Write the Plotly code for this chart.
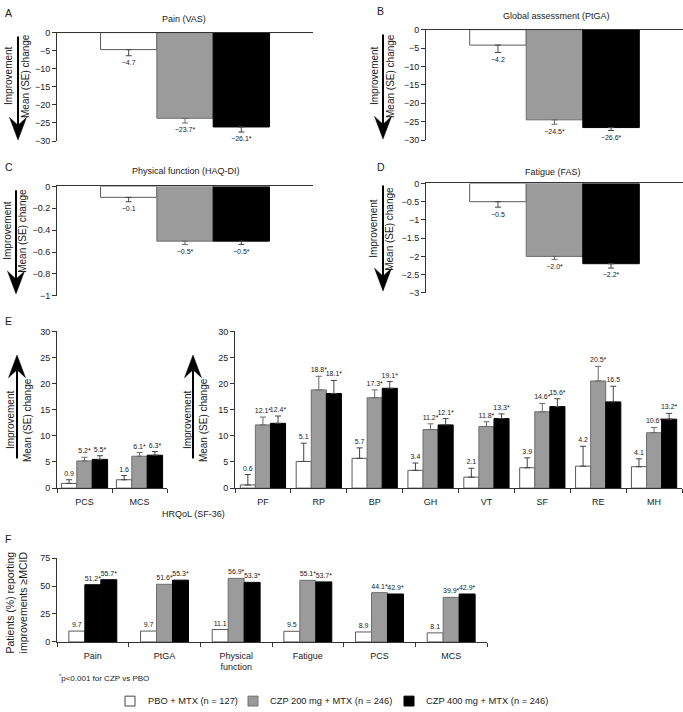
import plotly.graph_objects as go

W, H = 683, 712

# ---------------- data ----------------
group_names = ["PBO + MTX (n = 127)", "CZP 200 mg + MTX (n = 246)", "CZP 400 mg + MTX (n = 246)"]

# A  Pain (VAS)
pain_mean = [-4.7, -23.7, -26.1]
pain_se = [1.7, 1.3, 1.4]
pain_star = [False, True, True]
# B  Global assessment (PtGA)
ptga_mean = [-4.2, -24.5, -26.6]
ptga_se = [2.0, 1.2, 0.8]
ptga_star = [False, True, True]
# C  Physical function (HAQ-DI)
haq_mean = [-0.1, -0.5, -0.5]
haq_se = [0.04, 0.03, 0.03]
haq_star = [False, True, True]
# D  Fatigue (FAS)
fas_mean = [-0.5, -2.0, -2.2]
fas_se = [0.15, 0.08, 0.12]
fas_star = [False, True, True]

# E  HRQoL (SF-36) summary scores
summary_cats = ["PCS", "MCS"]
summary_pbo = [0.9, 1.6]
summary_pbo_se = [0.7, 0.8]
summary_200 = [5.2, 6.1]
summary_200_se = [0.7, 0.7]
summary_400 = [5.5, 6.3]
summary_400_se = [0.7, 0.7]
summary_star_pbo = [False, False]
summary_star_200 = [True, True]
summary_star_400 = [True, True]

# E  HRQoL (SF-36) domains
domain_cats = ["PF", "RP", "BP", "GH", "VT", "SF", "RE", "MH"]
domain_pbo = [0.6, 5.1, 5.7, 3.4, 2.1, 3.9, 4.2, 4.1]
domain_pbo_se = [2.0, 3.5, 2.0, 1.4, 1.7, 1.9, 3.8, 1.5]
domain_200 = [12.1, 18.8, 17.3, 11.2, 11.8, 14.6, 20.5, 10.6]
domain_200_se = [1.5, 2.6, 1.5, 1.1, 0.9, 1.6, 2.8, 1.0]
domain_400 = [12.4, 18.1, 19.1, 12.1, 13.3, 15.6, 16.5, 13.2]
domain_400_se = [1.4, 2.5, 1.3, 1.2, 0.9, 1.5, 3.0, 1.1]
domain_star_pbo = [False] * 8
domain_star_200 = [True, True, True, True, True, True, True, True]
domain_star_400 = [True, True, True, True, True, True, False, True]

# F  Patients reporting improvements >= MCID
mcid_cats = ["Pain", "PtGA", "Physical<br>function", "Fatigue", "PCS", "MCS"]
mcid_pbo = [9.7, 9.7, 11.1, 9.5, 8.9, 8.1]
mcid_200 = [51.2, 51.6, 56.9, 55.1, 44.1, 39.9]
mcid_400 = [55.7, 55.3, 53.3, 53.7, 42.9, 42.9]
mcid_star_pbo = [False] * 6
mcid_star_200 = [True] * 6
mcid_star_400 = [True] * 6

# ---------------- style ----------------
FONT = "Liberation Sans, Arial, Helvetica, sans-serif"
TXT = "#1a1a1a"
AX = "#333333"
FILLS = ["#ffffff", "#9b9b9b", "#000000"]
LINES = ["#5a5a5a", "#6e6e6e", "#000000"]
ERRC = ["#444444", "#6a6a6a", "#444444"]


def fx(px):
    return px / W


def fy(py):
    return 1 - py / H


def fmt(v, star):
    return f"{v:.1f}".replace("-", "\u2212") + ("*" if star else "")


fig = go.Figure()
layout = dict(
    width=W, height=H, margin=dict(l=0, r=0, t=0, b=0),
    paper_bgcolor="white", plot_bgcolor="white",
    barmode="overlay", showlegend=False,
    font=dict(family=FONT, color=TXT, size=9),
)
annotations = []
shapes = []


def add_bars(idx, n, means, ses, stars, w, up, fill_override=None):
    xid = "x" if idx == 1 else f"x{idx}"
    yid = "y" if idx == 1 else f"y{idx}"
    for k in range(3):
        xs = [i + (k - 1) * w for i in range(n)]
        fills = FILLS[k] if fill_override is None or fill_override[k] is None else fill_override[k][0]
        lines = LINES[k] if fill_override is None or fill_override[k] is None else fill_override[k][1]
        err = None
        if ses is not None:
            zeros = [0] * n
            err = dict(type="data", symmetric=False,
                       array=ses[k] if up else zeros,
                       arrayminus=zeros if up else ses[k],
                       color=ERRC[k], thickness=1, width=3)
        fig.add_trace(go.Bar(
            x=xs, y=means[k], width=w,
            marker=dict(color=fills, line=dict(color=lines, width=1)),
            error_y=err, xaxis=xid, yaxis=yid, showlegend=False, hoverinfo="skip",
        ))
        if ses is not None:
            ytxt = [m + s if up else m - s for m, s in zip(means[k], ses[k])]
        else:
            ytxt = list(means[k])
        fig.add_trace(go.Scatter(
            x=xs, y=ytxt, mode="markers+text",
            marker=dict(size=2 if up else 5, color="rgba(0,0,0,0)"),
            text=[fmt(m, st) for m, st in zip(means[k], stars[k])],
            textposition="top center" if up else "bottom center",
            textfont=dict(size=7, color=TXT, family=FONT),
            cliponaxis=False, showlegend=False, hoverinfo="skip",
            xaxis=xid, yaxis=yid,
        ))


def set_axes(idx, xd, yd, n, yrange, dtick, cats=None, top=False):
    xkey = "xaxis" if idx == 1 else f"xaxis{idx}"
    ykey = "yaxis" if idx == 1 else f"yaxis{idx}"
    xid = "x" if idx == 1 else f"x{idx}"
    yid = "y" if idx == 1 else f"y{idx}"
    bounds = [i + 0.5 for i in range(-1, n)]
    xa = dict(
        domain=[fx(xd[0]), fx(xd[1])], anchor=yid, range=[-0.5, n - 0.5],
        showline=True, linecolor=AX, linewidth=1, showgrid=False, zeroline=False,
        fixedrange=True,
    )
    if top:
        xa.update(side="top", tickvals=bounds[1:], ticks="inside", ticklen=4,
                  tickcolor=AX, showticklabels=False)
    else:
        xa.update(side="bottom", tickvals=list(range(n)), ticktext=cats, ticks="",
                  ticklabelstandoff=5,
                  tickfont=dict(size=9, color=TXT, family=FONT),
                  minor=dict(tickvals=bounds, ticks="outside", ticklen=4, tickcolor=AX, tickwidth=1))
    layout[xkey] = xa
    layout[ykey] = dict(
        domain=[fy(yd[0]), fy(yd[1])], anchor=xid, range=yrange, dtick=dtick, tick0=0,
        showline=True, linecolor=AX, linewidth=1, ticks="outside", ticklen=4, tickcolor=AX,
        showgrid=False, zeroline=False, fixedrange=True,
        tickfont=dict(size=9, color=TXT, family=FONT),
    )


def text(x, y, s, size=9, xanchor="center", angle=0):
    annotations.append(dict(x=fx(x), y=fy(y), xref="paper", yref="paper", text=s,
                            showarrow=False, xanchor=xanchor, yanchor="middle",
                            textangle=angle, font=dict(size=size, color=TXT, family=FONT)))


def arrow(x, tail, tip):
    d = 1 if tip > tail else -1
    head, half, notch = 23, 8.5, 15
    base = tip - d * head
    nch = tip - d * notch
    shapes.append(dict(type="line", xref="paper", yref="paper",
                       x0=fx(x), y0=fy(tail), x1=fx(x), y1=fy(nch),
                       line=dict(color="black", width=2)))
    path = (f"M {fx(x)},{fy(tip)} L {fx(x - half)},{fy(base)} L {fx(x)},{fy(nch)} "
            f"L {fx(x + half)},{fy(base)} Z")
    shapes.append(dict(type="path", xref="paper", yref="paper", path=path,
                       fillcolor="black", line=dict(color="black", width=0.5)))


def improvement(x_imp, x_arrow, x_mean, yc, tail, tip):
    arrow(x_arrow, tail, tip)
    text(x_imp, yc, "Improvement", size=10, angle=-90)
    text(x_mean, yc, "Mean (SE) change", size=10, angle=-90)


# ---- A ----
set_axes(1, (57, 313), (138, 28), 1, [-30, 0], 5, top=True)
add_bars(1, 1, [[v] for v in pain_mean], [[v] for v in pain_se], [[v] for v in pain_star], 0.22, up=False)
# ---- B ----
set_axes(2, (426, 683), (137, 25), 1, [-30, 0], 5, top=True)
add_bars(2, 1, [[v] for v in ptga_mean], [[v] for v in ptga_se], [[v] for v in ptga_star], 0.22, up=False)
# ---- C ----
set_axes(3, (57, 313), (295, 184), 1, [-1, 0], 0.2, top=True)
add_bars(3, 1, [[v] for v in haq_mean], [[v] for v in haq_se], [[v] for v in haq_star], 0.22, up=False)
# ---- D ----
set_axes(4, (426, 683), (292, 181), 1, [-3, 0], 0.5, top=True)
add_bars(4, 1, [[v] for v in fas_mean], [[v] for v in fas_se], [[v] for v in fas_star], 0.22, up=False)
# ---- E left ----
set_axes(5, (57, 167), (490, 331), 2, [0, 30], 5, cats=summary_cats)
add_bars(5, 2, [summary_pbo, summary_200, summary_400],
         [summary_pbo_se, summary_200_se, summary_400_se],
         [summary_star_pbo, summary_star_200, summary_star_400], 0.28, up=True)
# ---- E right ----
set_axes(6, (235, 682), (490, 331), 8, [0, 30], 5, cats=domain_cats)
add_bars(6, 8, [domain_pbo, domain_200, domain_400],
         [domain_pbo_se, domain_200_se, domain_400_se],
         [domain_star_pbo, domain_star_200, domain_star_400], 0.27, up=True)
# ---- F ----
set_axes(7, (57, 487), (646, 561), 6, [0, 75], 25, cats=mcid_cats)
f200_fill = ["#000000"] + ["#9b9b9b"] * 5
f200_line = ["#000000"] + ["#6e6e6e"] * 5
add_bars(7, 6, [mcid_pbo, mcid_200, mcid_400], None,
         [mcid_star_pbo, mcid_star_200, mcid_star_400], 0.223, up=True,
         fill_override=[None, (f200_fill, f200_line), None])

# ---- titles, panel letters ----
text(184, 14, "Pain (VAS)")
text(556, 11, "Global assessment (PtGA)")
text(186, 168, "Physical function (HAQ-DI)")
text(553, 169, "Fatigue (FAS)")
for letter, x, y in [("A", 3, 8), ("B", 375, 6), ("C", 3, 164), ("D", 375, 164), ("E", 3, 320), ("F", 3, 542)]:
    text(x, y, letter, size=10.5, xanchor="left")

# ---- improvement arrows ----
improvement(9, 18, 26, 72, 32, 137)
improvement(375, 383, 391, 72, 30, 136)
improvement(8, 16, 23, 229, 188, 293)
improvement(374, 383, 390, 227, 183, 290)
improvement(10, 17, 27, 421, 460, 355)
improvement(187, 193, 203, 421, 460, 355)

text(193, 516, "HRQoL (SF-36)")
text(17, 606, "Patients (%) reporting<br>improvements \u2265MCID", size=10.5, angle=-90)
text(57, 683, "<sup>*</sup>p&lt;0.001 for CZP vs PBO", size=8, xanchor="left")

# ---- legend ----
leg_items = [(125, 146), (248, 268), (404, 424)]
for k, (bx, tx) in enumerate(leg_items):
    shapes.append(dict(type="rect", xref="paper", yref="paper",
                       x0=fx(bx), x1=fx(bx + 10), y0=fy(711), y1=fy(701),
                       fillcolor=FILLS[k], line=dict(color=LINES[k] if k else "#444444", width=1)))
    text(tx, 706, group_names[k], size=9.3, xanchor="left")

layout["annotations"] = annotations
layout["shapes"] = shapes
fig.update_layout(**layout)
fig.write_html(
    "out.html",
    config={"displayModeBar": False},
    post_script="document.body.style.margin='0px';document.body.style.overflow='hidden';",
)
